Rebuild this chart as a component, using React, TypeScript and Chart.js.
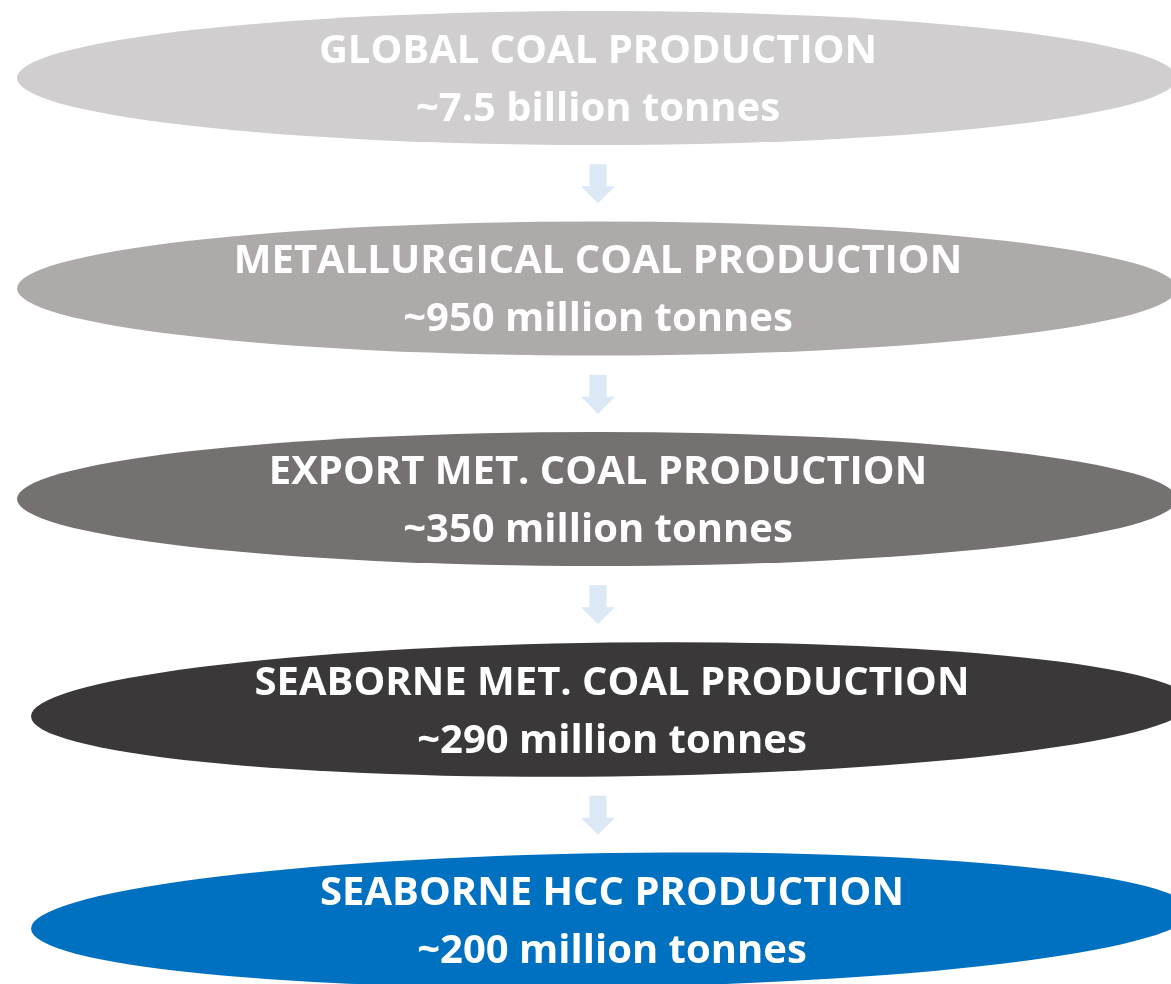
import React, { useEffect, useRef } from "react";
import { Chart, registerables } from "chart.js";

Chart.register(...registerables);

const stages = [
  "GLOBAL COAL PRODUCTION",
  "METALLURGICAL COAL PRODUCTION",
  "EXPORT MET. COAL PRODUCTION",
  "SEABORNE MET. COAL PRODUCTION",
  "SEABORNE HCC PRODUCTION",
];
const amounts = [
  "~7.5 billion tonnes",
  "~950 million tonnes",
  "~350 million tonnes",
  "~290 million tonnes",
  "~200 million tonnes",
];
const stageColors = ["#D0CECE", "#AEAAAA", "#757171", "#3A3838", "#0070C0"];
const stageIndex = [0, 1, 2, 3, 4];

const W = 1171;
const H = 984;

const funnelPlugin = {
  id: "ellipseFunnel",
  afterDatasetsDraw(chart: any, _args: any, opts: any) {
    const ctx = chart.ctx as CanvasRenderingContext2D;
    const xs = chart.scales.x;
    const ys = chart.scales.y;
    const meta = chart.getDatasetMeta(0);
    const rx = opts.rx;
    const ry = opts.ry;
    ctx.save();
    for (let i = 0; i < stageIndex.length - 1; i++) {
      const cy = ys.getPixelForValue(stageIndex[i] + 0.5);
      const cx = xs.getPixelForValue(opts.arrowX);
      ctx.fillStyle = opts.arrowColor;
      ctx.beginPath();
      ctx.moveTo(cx - 8.5, cy - 19);
      ctx.lineTo(cx + 8.5, cy - 19);
      ctx.lineTo(cx + 8.5, cy + 3);
      ctx.lineTo(cx + 17, cy + 3);
      ctx.lineTo(cx, cy + 20);
      ctx.lineTo(cx - 17, cy + 3);
      ctx.lineTo(cx - 8.5, cy + 3);
      ctx.closePath();
      ctx.fill();
    }
    meta.data.forEach((el: any, i: number) => {
      const cx = el.x;
      const cy = el.y;
      ctx.fillStyle = stageColors[i];
      ctx.beginPath();
      ctx.ellipse(cx, cy, rx, ry, opts.tilt[i] || 0, 0, Math.PI * 2);
      ctx.fill();
      ctx.fillStyle = "#FFFFFF";
      ctx.font = opts.font;
      ctx.textAlign = "center";
      ctx.textBaseline = "alphabetic";
      ctx.fillText(stages[i], cx + 1, cy - 15);
      ctx.fillText(amounts[i], cx + 1, cy + 43);
    });
    ctx.restore();
  },
};

export default function App() {
  const ref = useRef<HTMLCanvasElement>(null);
  useEffect(() => {
    document.body.style.margin = "0";
    const canvas = ref.current!;
    const chart = new Chart(canvas, {
      type: "scatter",
      data: {
        datasets: [
          {
            label: "Stages",
            data: stageIndex.map((i) => ({ x: i < 3 ? 597 : 611, y: i })),
            pointRadius: 0,
            backgroundColor: stageColors,
          },
        ],
      },
      options: {
        animation: false,
        responsive: false,
        devicePixelRatio: 1,
        layout: { padding: 0 },
        events: [],
        plugins: {
          legend: { display: false },
          tooltip: { enabled: false },
          ellipseFunnel: {
            rx: 580,
            ry: 67,
            tilt: [0, 0, 0, -0.012, -0.015],
            arrowX: 598,
            arrowColor: "#DCE8F5",
            font: "bold 40px 'Open Sans'",
          },
        } as any,
        scales: {
          x: { type: "linear", min: 0, max: W, display: false },
          y: {
            type: "linear",
            min: -0.3705,
            max: 4.304,
            reverse: true,
            display: false,
          },
        },
      },
      plugins: [funnelPlugin],
    });
    return () => chart.destroy();
  }, []);
  return (
    <div style={{ position: "absolute", left: 0, top: 0, width: W, height: H, background: "#fff" }}>
      <canvas ref={ref} width={W} height={H} style={{ display: "block", width: W, height: H }} />
    </div>
  );
}
